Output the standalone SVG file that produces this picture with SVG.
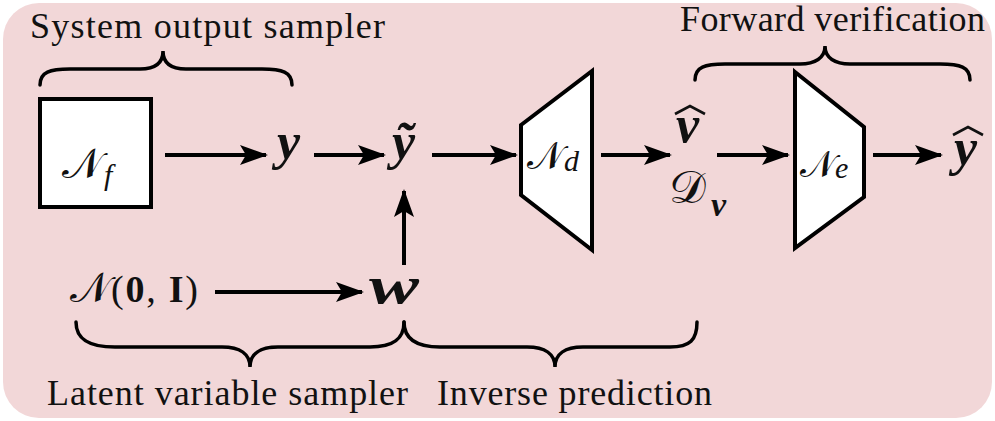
<svg xmlns="http://www.w3.org/2000/svg" width="995" height="421" viewBox="0 0 995 421">
<defs>
<marker id="ah" viewBox="0 0 28 20" refX="26" refY="10" markerWidth="28" markerHeight="20" markerUnits="userSpaceOnUse" orient="auto">
<path d="M0,0 L28,10 L0,20 L6,10 Z" fill="#000"/>
</marker>
</defs>
<style>
.blk{fill:#fff;stroke:#000;stroke-width:4;stroke-linejoin:miter}
.c{stroke:#000;stroke-width:4;fill:none;marker-end:url(#ah)}
.br{stroke:#000;stroke-width:3.5;fill:none;stroke-linecap:round}
.hat{stroke:#111;stroke-width:2.6;fill:none;stroke-linejoin:miter}
</style>
<rect x="3" y="3" width="989" height="415" rx="36" ry="36" fill="#f2d7d8"/>

<g id="braces">
<path class="br" d="M40,85 C40,72 50,69 70,69 L140,69 C155,69 163,63 163,51 C163,63 171,69 186,69 L262,69 C282,69 292,72 292,85"/>
<path class="br" d="M695,80 C695,67 705,64 725,64 L800,64 C815,64 825,58 825,46 C825,58 835,64 850,64 L940,64 C960,64 970,67 970,80"/>
<path class="br" d="M76,322 C76,340 90,347 115,347 L222,347 C240,347 250,354 250,367 C250,354 260,347 278,347 L370,347 C392,347 404,340 404,322"/>
<path class="br" d="M404,322 C404,340 418,347 440,347 L527,347 C545,347 555,354 555,367 C555,354 565,347 583,347 L670,347 C690,347 697,340 697,322"/>
</g>

<g id="labels">
<text x="30" y="38" font-family="Liberation Serif" font-size="36" fill="#111" textLength="355" lengthAdjust="spacing">System output sampler</text>
<text x="680" y="31" font-family="Liberation Serif" font-size="36" fill="#111" textLength="305" lengthAdjust="spacing">Forward verification</text>
<text x="47" y="405" font-family="Liberation Serif" font-size="36" fill="#111" textLength="361" lengthAdjust="spacing">Latent variable sampler</text>
<text x="437" y="405" font-family="Liberation Serif" font-size="36" fill="#111" textLength="275" lengthAdjust="spacing">Inverse prediction</text>
</g>

<g id="Nf">
<rect class="blk" x="40" y="99" width="111" height="108"/>
<text x="62" y="178" font-family="DejaVu Serif" font-size="42" fill="#111">𝒩</text>
<text x="104" y="185" font-family="Liberation Serif" font-style="italic" font-size="30" fill="#111">f</text>
</g>

<g id="y">
<text x="277" y="159" font-family="Liberation Serif" font-weight="bold" font-style="italic" font-size="52" fill="#111">y</text>
</g>

<g id="ytilde">
<text x="392" y="159" font-family="Liberation Serif" font-weight="bold" font-style="italic" font-size="52" fill="#111">ỹ</text>
</g>

<g id="Nd">
<polygon class="blk" points="521,125 592,71 592,250 521,195"/>
<text x="527" y="169" font-family="DejaVu Serif" font-size="38" fill="#111">𝒩</text>
<text x="564" y="171" font-family="Liberation Serif" font-style="italic" font-size="30" fill="#111">d</text>
</g>

<g id="vhat">
<text x="676" y="142" font-family="Liberation Serif" font-weight="bold" font-style="italic" font-size="52" fill="#111">v</text>
<polyline class="hat" points="675,114 690,106 705,114"/>
<text x="669" y="203" font-family="DejaVu Serif" font-size="46" fill="#111">𝒟</text>
<text x="711" y="216" font-family="Liberation Serif" font-weight="bold" font-style="italic" font-size="34" fill="#111">v</text>
</g>

<g id="Ne">
<polygon class="blk" points="795,72 864,127 864,197 795,248"/>
<text x="800" y="177" font-family="DejaVu Serif" font-size="37" fill="#111">𝒩</text>
<text x="835" y="178" font-family="Liberation Serif" font-style="italic" font-size="30" fill="#111">e</text>
</g>

<g id="yhat">
<text x="954" y="165" font-family="Liberation Serif" font-weight="bold" font-style="italic" font-size="52" fill="#111">y</text>
<polyline class="hat" points="953,135 968,127 983,135"/>
</g>

<g id="noise">
<text x="70" y="302" font-family="DejaVu Serif" font-size="42" fill="#111">𝒩</text>
<text x="111" y="302" font-family="Liberation Serif" font-size="38" fill="#111" textLength="87" lengthAdjust="spacing">(<tspan font-weight="bold">0</tspan>, <tspan font-weight="bold">I</tspan>)</text>
</g>

<g id="w">
<text x="369" y="303" font-family="Liberation Serif" font-weight="bold" font-style="italic" font-size="52" fill="#111" textLength="50" lengthAdjust="spacingAndGlyphs">w</text>
</g>

<g id="connectors">
<line class="c" x1="165" y1="155" x2="266" y2="155"/>
<line class="c" x1="314" y1="155" x2="384" y2="155"/>
<line class="c" x1="432" y1="155" x2="516" y2="155"/>
<line class="c" x1="601" y1="155" x2="670" y2="155"/>
<line class="c" x1="717" y1="155" x2="788" y2="155"/>
<line class="c" x1="873" y1="155" x2="941" y2="155"/>
<line class="c" x1="404" y1="265" x2="404" y2="191"/>
<line class="c" x1="215" y1="292" x2="362" y2="292"/>
</g>
</svg>
